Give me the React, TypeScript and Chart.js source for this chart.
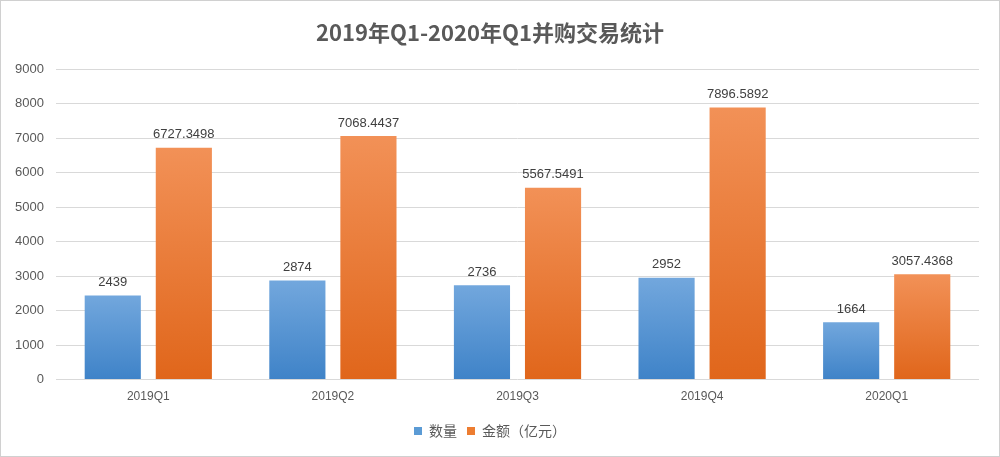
import React, { useEffect, useRef } from "react";
import { Chart, registerables } from "chart.js";

Chart.register(...registerables);

const categories = ["2019Q1", "2019Q2", "2019Q3", "2019Q4", "2020Q1"];
const countValues = [2439, 2874, 2736, 2952, 1664];
const amountValues = [6727.3498, 7068.4437, 5567.5491, 7896.5892, 3057.4368];
const amountLabels = ["6727.3498", "7068.4437", "5567.5491", "7896.5892", "3057.4368"];
const countLabels = ["2439", "2874", "2736", "2952", "1664"];
const seriesNames = ["数量", "金额（亿元）"];
const titleText = "2019年Q1-2020年Q1并购交易统计";

const gradients: [string, string][] = [
  ["#72a7dd", "#3f83c8"],
  ["#f29157", "#e0661b"],
];

const barGradientPlugin = {
  id: "barGradient",
  beforeDatasetDraw(chart: any, args: any) {
    const ctx = chart.ctx;
    const meta = args.meta;
    const idx = args.index;
    const [top, bottom] = gradients[idx];
    meta.data.forEach((el: any) => {
      const g = ctx.createLinearGradient(0, el.y, 0, el.base);
      g.addColorStop(0, top);
      g.addColorStop(1, bottom);
      el.options = { ...el.options, backgroundColor: g };
    });
  },
};

const labelPlugin = {
  id: "valueLabels",
  afterDatasetsDraw(chart: any) {
    const ctx = chart.ctx;
    ctx.save();
    ctx.font = "13px 'Liberation Sans', 'Noto Sans', sans-serif";
    ctx.fillStyle = "#404040";
    ctx.textAlign = "center";
    ctx.textBaseline = "middle";
    const labelSets = [countLabels, amountLabels];
    chart.data.datasets.forEach((_: any, di: number) => {
      const meta = chart.getDatasetMeta(di);
      meta.data.forEach((el: any, i: number) => {
        ctx.fillText(labelSets[di][i], el.x, el.y - 13);
      });
    });
    ctx.restore();
  },
};

export default function App() {
  const canvasRef = useRef<HTMLCanvasElement | null>(null);

  useEffect(() => {
    document.body.style.margin = "0";
    const canvas = canvasRef.current;
    if (!canvas) return;
    const chart = new Chart(canvas, {
      type: "bar",
      data: {
        labels: categories,
        datasets: [
          {
            label: seriesNames[0],
            data: countValues,
            backgroundColor: "#5b9bd5",
            categoryPercentage: 0.77,
            barPercentage: 0.79,
          },
          {
            label: seriesNames[1],
            data: amountValues,
            backgroundColor: "#ed7d31",
            categoryPercentage: 0.77,
            barPercentage: 0.79,
          },
        ],
      },
      options: {
        animation: false,
        responsive: false,
        maintainAspectRatio: false,
        layout: { padding: { left: 0, right: 20, top: 0, bottom: 8 } },
        plugins: {
          title: {
            display: true,
            text: titleText,
            color: "#595959",
            font: { family: "'Noto Sans CJK SC', sans-serif", size: 22, weight: "bold" },
            padding: { top: 18, bottom: 24 },
          },
          legend: {
            position: "bottom",
            labels: {
              color: "#595959",
              font: { family: "'Noto Sans CJK SC', sans-serif", size: 14 },
              usePointStyle: true,
              pointStyle: "rect",
              boxWidth: 8,
              boxHeight: 8,
              padding: 10,
            },
          },
          tooltip: { enabled: false },
        },
        scales: {
          x: {
            grid: { display: false, drawTicks: false },
            border: { display: false },
            ticks: {
              color: "#595959",
              font: { family: "'Liberation Sans', sans-serif", size: 12 },
              padding: 10,
            },
          },
          y: {
            min: 0,
            max: 9000,
            grid: { color: "#d9d9d9", drawTicks: false },
            border: { display: false },
            ticks: {
              stepSize: 1000,
              color: "#595959",
              font: { family: "'Liberation Sans', sans-serif", size: 13 },
              padding: 12,
              callback: (v: any) => String(v),
            },
            afterFit(scale: any) {
              scale.width = 55;
            },
          },
        },
      },
      plugins: [barGradientPlugin, labelPlugin],
    });
    return () => chart.destroy();
  }, []);

  return (
    <div
      style={{
        position: "absolute",
        left: 0,
        top: 0,
        width: 1000,
        height: 457,
        boxSizing: "border-box",
        border: "1px solid #d0d0d0",
        background: "#fff",
      }}
    >
      <canvas ref={canvasRef} width={998} height={455} style={{ display: "block" }} />
    </div>
  );
}
